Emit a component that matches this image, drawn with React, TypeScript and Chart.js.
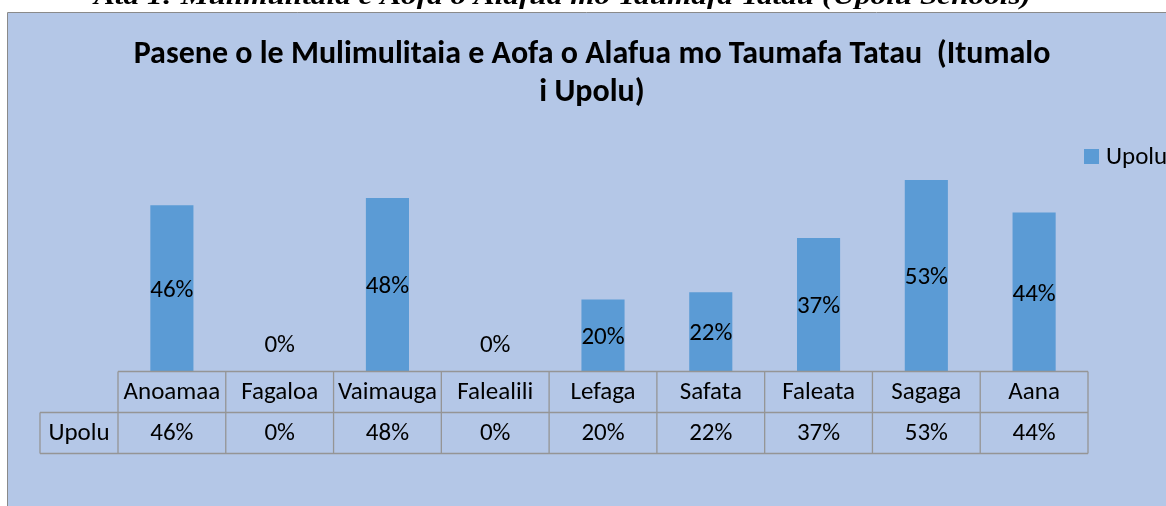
import React, { useEffect, useRef } from "react";
import { Chart, registerables } from "chart.js";

Chart.register(...registerables);

const categories = ["Anoamaa", "Fagaloa", "Vaimauga", "Falealili", "Lefaga", "Safata", "Faleata", "Sagaga", "Aana"];
const upoluValues = [46, 0, 48, 0, 20, 22, 37, 53, 44];
const seriesName = "Upolu";
const titleLines = ["Pasene o le Mulimulitaia e Aofa o Alafua mo Taumafa Tatau  (Itumalo", "i Upolu)"];
const captionText = "Ata 1: Mulimulitaia e Aofa o Alafua mo Taumafa Tatau (Upolu Schools)";

const BAR = "#5B9BD5";
const BG = "#B4C7E7";
const GRID = "#959595";
const FONT = '"Carlito", "Lato", "Open Sans", sans-serif';

const fmt = (v: number) => `${v}%`;

const decor = {
  id: "decor",
  beforeDraw(chart: any) {
    const ctx = chart.ctx as CanvasRenderingContext2D;
    ctx.save();
    ctx.fillStyle = "#ffffff";
    ctx.fillRect(0, 0, chart.width, chart.height);
    ctx.fillStyle = BG;
    ctx.fillRect(8, 13, chart.width - 8, chart.height - 13);
    ctx.strokeStyle = "#8a8a8a";
    ctx.lineWidth = 1;
    ctx.beginPath();
    ctx.moveTo(7.5, chart.height);
    ctx.lineTo(7.5, 12.5);
    ctx.lineTo(chart.width, 12.5);
    ctx.stroke();
    // caption (cut off at top)
    ctx.fillStyle = "#000";
    ctx.font = 'italic bold 25px "Liberation Serif", "DejaVu Serif", serif';
    ctx.textAlign = "left";
    ctx.textBaseline = "alphabetic";
    const w = ctx.measureText(captionText).width;
    const target = 937;
    ctx.setTransform(target / w, 0, 0, 1, 94, 0);
    ctx.fillText(captionText, 0, 4);
    ctx.setTransform(1, 0, 0, 1, 0, 0);
    ctx.restore();
  },
  afterDatasetsDraw(chart: any) {
    const ctx = chart.ctx as CanvasRenderingContext2D;
    const xs = chart.scales.x;
    const area = chart.chartArea;
    const meta = chart.getDatasetMeta(0);
    ctx.save();
    // data labels
    ctx.fillStyle = "#000";
    ctx.font = `25px ${FONT}`;
    ctx.textAlign = "center";
    ctx.textBaseline = "middle";
    upoluValues.forEach((v, i) => {
      const el = meta.data[i];
      const y = v > 0 ? (el.y + el.base) / 2 + 2 : el.base - 26;
      ctx.fillText(fmt(v), el.x, y);
    });

    // data table
    const n = categories.length;
    const colW = (area.right - area.left) / n;
    const top = Math.round(area.bottom) - 0.5;
    const rowH = 41;
    const mid = top + rowH;
    const bot = mid + rowH;
    const labelLeft = 40;
    ctx.strokeStyle = GRID;
    ctx.lineWidth = 1.3;
    ctx.beginPath();
    ctx.moveTo(area.left, top);
    ctx.lineTo(area.right, top);
    ctx.moveTo(labelLeft, mid);
    ctx.lineTo(area.right, mid);
    ctx.moveTo(labelLeft, bot);
    ctx.lineTo(area.right, bot);
    ctx.moveTo(labelLeft, mid);
    ctx.lineTo(labelLeft, bot);
    for (let i = 0; i <= n; i++) {
      const x = area.left + i * colW;
      ctx.moveTo(x, top);
      ctx.lineTo(x, bot);
    }
    ctx.stroke();
    ctx.fillStyle = "#000";
    categories.forEach((c, i) => {
      const cx = xs.getPixelForValue(i);
      ctx.fillText(c, cx, top + rowH / 2 + 1);
      ctx.fillText(fmt(upoluValues[i]), cx, mid + rowH / 2 + 1);
    });
    ctx.fillText(seriesName, (labelLeft + area.left) / 2, mid + rowH / 2 + 1);

    // title
    ctx.font = `bold 32px ${FONT}`;
    ctx.textBaseline = "alphabetic";
    ctx.fillText(titleLines[0], 592, 63);
    ctx.fillText(titleLines[1], 592, 101);

    // legend
    ctx.fillStyle = BAR;
    ctx.fillRect(1084, 149, 15, 15);
    ctx.fillStyle = "#000";
    ctx.font = `25px ${FONT}`;
    ctx.textAlign = "left";
    ctx.fillText(seriesName, 1106, 164);
    ctx.restore();
  },
};

export default function App() {
  const ref = useRef<HTMLCanvasElement | null>(null);
  useEffect(() => {
    if (!ref.current) return;
    const chart = new Chart(ref.current, {
      type: "bar",
      data: {
        labels: categories,
        datasets: [
          {
            label: seriesName,
            data: upoluValues,
            backgroundColor: BAR,
            borderWidth: 0,
            categoryPercentage: 1,
            barPercentage: 0.4,
          },
        ],
      },
      options: {
        responsive: false,
        animation: false,
        layout: { padding: { left: 118, right: 78, top: 154.5, bottom: 134 } },
        plugins: { legend: { display: false }, title: { display: false }, tooltip: { enabled: false } },
        scales: {
          x: { display: false },
          y: { display: false, min: 0, max: 60 },
        },
      },
      plugins: [decor],
    });
    return () => chart.destroy();
  }, []);
  return (
    <div style={{ position: "absolute", left: 0, top: 0, width: 1166, height: 506 }}>
      <canvas ref={ref} width={1166} height={506} style={{ display: "block" }} />
    </div>
  );
}
